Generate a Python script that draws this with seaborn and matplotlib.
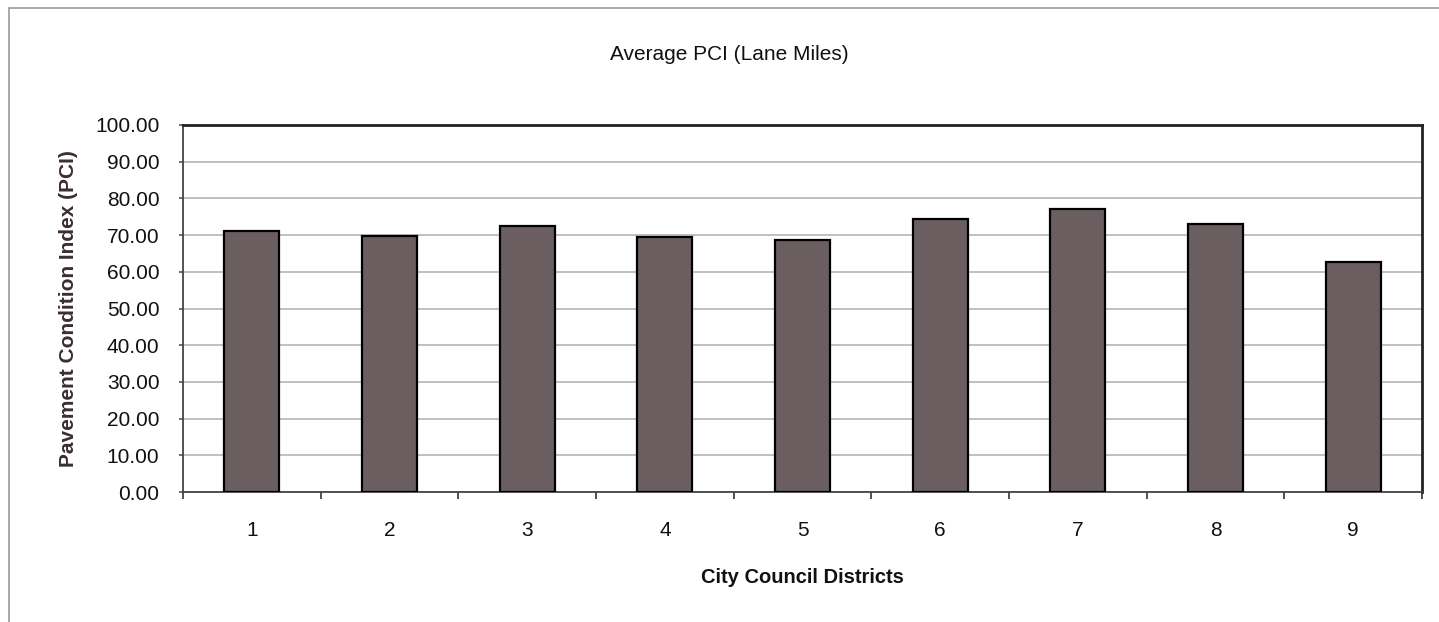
import matplotlib
matplotlib.use("Agg")
import matplotlib.pyplot as plt
from matplotlib.ticker import FixedLocator, FormatStrFormatter
import pandas as pd
import seaborn as sns

# Values
districts = ["1", "2", "3", "4", "5", "6", "7", "8", "9"]
avg_pci = [71.0, 69.7, 72.6, 69.5, 68.6, 74.5, 77.0, 73.0, 62.6]
y_ticks = [0, 10, 20, 30, 40, 50, 60, 70, 80, 90, 100]

df = pd.DataFrame({"district": districts, "pci": avg_pci})

sns.set_theme(style="white")
plt.rcParams['font.family'] = ['Liberation Sans', 'DejaVu Sans']

fig = plt.figure(figsize=(14.39, 6.22), dpi=100)
ax = fig.add_axes([183 / 1439, 1 - 492 / 622, (1422 - 183) / 1439, (492 - 125) / 622])

sns.barplot(data=df, x="district", y="pci", ax=ax, color="#6a5e61",
            saturation=1, width=0.4, edgecolor="black", linewidth=1.6, zorder=3)

ax.set_ylim(0, 100)
ax.set_xlim(-0.5, len(districts) - 0.5)
ax.set_yticks(y_ticks)
ax.yaxis.set_major_formatter(FormatStrFormatter("%.2f"))
ax.grid(axis="y", color="#b5b5b5", linewidth=1.2, zorder=0)
ax.set_axisbelow(True)

# Category boundary ticks on x, labels centred under bars
ax.xaxis.set_minor_locator(FixedLocator([i - 0.5 for i in range(len(districts) + 1)]))
ax.tick_params(axis="x", which="major", length=0, pad=21, labelsize=15, colors="#111111")
ax.tick_params(axis="x", which="minor", length=5, width=1.2, color="#333333", bottom=True)
ax.tick_params(axis="y", which="major", length=3, width=1.2, color="#555555", left=True,
               labelsize=15, pad=14, labelcolor="#111111")

for s in ["left", "bottom"]:
    ax.spines[s].set_color("#444444")
    ax.spines[s].set_linewidth(1.3)
for s in ["top", "right"]:
    ax.spines[s].set_color("#222222")
    ax.spines[s].set_linewidth(2.0)

ax.set_xlabel("City Council Districts", fontsize=14.5, fontweight="bold", labelpad=20, color="#111111")
ax.set_ylabel("Pavement Condition Index (PCI)", fontsize=15, fontweight="bold", labelpad=12, color="#3a2e2e")
fig.text(0.507, 1 - 55 / 622, "Average PCI (Lane Miles)", ha="center", va="center",
         fontsize=15, color="#111111")

# Outer chart frame
fig.patches.append(plt.Rectangle((9 / 1439, -0.01), 1.02, 1 - 8 / 622 + 0.01, transform=fig.transFigure,
                                 fill=False, edgecolor="#999999", linewidth=1.2))

fig.savefig("out.png", dpi=100, facecolor="white")
